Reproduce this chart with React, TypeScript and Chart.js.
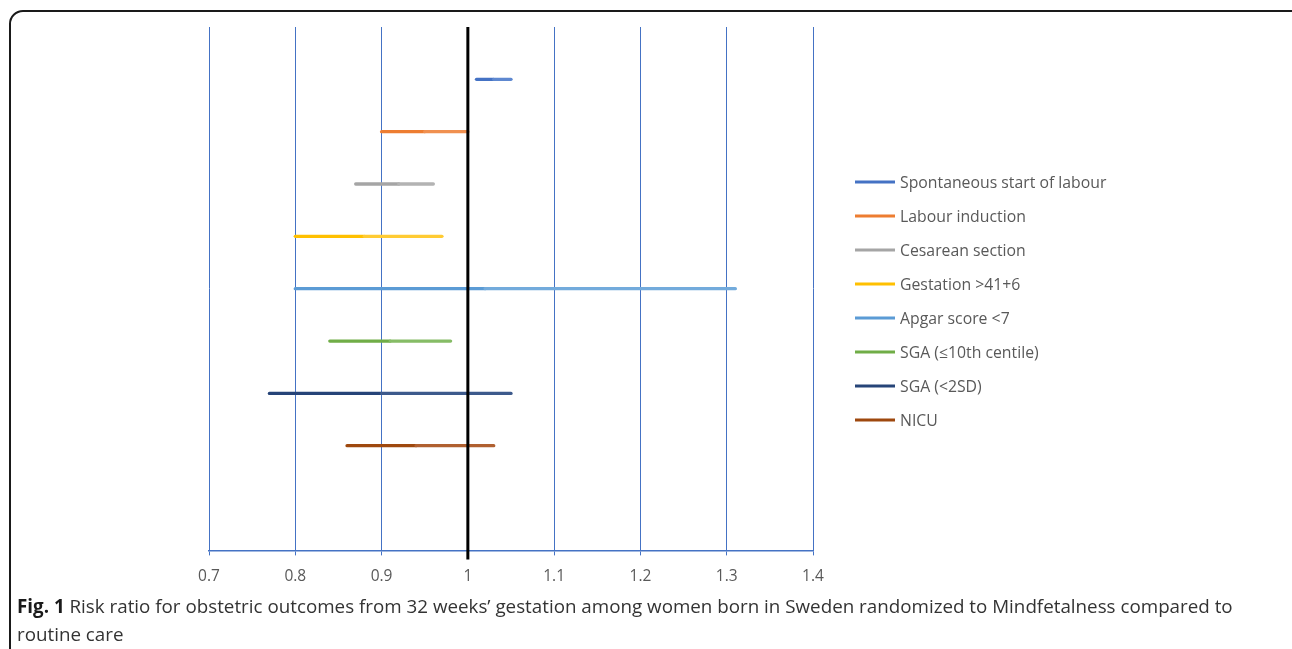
import React, { useEffect, useRef } from "react";
import { Chart, registerables } from "chart.js";

Chart.register(...registerables);

const categories = [
  "Spontaneous start of labour",
  "Labour induction",
  "Cesarean section",
  "Gestation >41+6",
  "Apgar score <7",
  "SGA (≤10th centile)",
  "SGA (<2SD)",
  "NICU",
];
const lowerCI = [1.01, 0.9, 0.87, 0.8, 0.8, 0.84, 0.77, 0.86];
const estimate = [1.03, 0.95, 0.92, 0.88, 1.02, 0.91, 0.9, 0.94];
const upperCI = [1.05, 1.0, 0.96, 0.97, 1.31, 0.98, 1.05, 1.03];
const colors = ["#4472C4", "#ED7D31", "#A5A5A5", "#FFC000", "#5B9BD5", "#70AD47", "#264478", "#9E480E"];
const lightColors = ["#5E88D0", "#F09050", "#B3B3B3", "#FFCB33", "#73ABDC", "#86BC66", "#3D5A8C", "#B06030"];
const xTicks = [0.7, 0.8, 0.9, 1.0, 1.1, 1.2, 1.3, 1.4];
const referenceValue = 1;

const refLinePlugin = {
  id: "refLine",
  afterDatasetsDraw(chart: any) {
    const { ctx, chartArea, scales } = chart;
    const x = scales.x.getPixelForValue(referenceValue);
    ctx.save();
    ctx.strokeStyle = "#000000";
    ctx.lineWidth = 3;
    ctx.beginPath();
    ctx.moveTo(x, chartArea.top);
    ctx.lineTo(x, chartArea.bottom + 9);
    ctx.stroke();
    ctx.restore();
  },
};

const legendPlugin = {
  id: "sideLegend",
  afterDraw(chart: any) {
    const { ctx, chartArea } = chart;
    ctx.save();
    ctx.font = "15.8px 'Open Sans'";
    ctx.textBaseline = "middle";
    ctx.textAlign = "left";
    chart.data.datasets.forEach((ds: any, i: number) => {
      const y = chartArea.top + 155 + i * 34;
      const x0 = chartArea.right + 42;
      ctx.strokeStyle = ds.borderColor;
      ctx.lineWidth = 3;
      ctx.beginPath();
      ctx.moveTo(x0, y);
      ctx.lineTo(x0 + 40, y);
      ctx.stroke();
      ctx.fillStyle = "#595959";
      ctx.fillText(ds.label, x0 + 45, y + 1);
    });
    ctx.restore();
  },
};

export default function App() {
  const canvasRef = useRef<HTMLCanvasElement | null>(null);

  useEffect(() => {
    if (!canvasRef.current) return;
    const datasets = categories.map((label, i) => ({
      label,
      data: [
        { x: lowerCI[i], y: i + 1 },
        { x: estimate[i], y: i + 1 },
        { x: upperCI[i], y: i + 1 },
      ],
      borderColor: colors[i],
      backgroundColor: colors[i],
      borderWidth: 3.3,
      pointRadius: 0,
      pointHoverRadius: 0,
      borderCapStyle: "round" as const,
      segment: {
        borderColor: (ctx: any) => (ctx.p0DataIndex === 0 ? colors[i] : lightColors[i]),
      },
    }));
    const chart = new Chart(canvasRef.current, {
      type: "line",
      data: { datasets },
      options: {
        animation: false,
        responsive: false,
        maintainAspectRatio: false,
        layout: { padding: { left: 209, right: 479, top: 27, bottom: 2 } },
        plugins: { legend: { display: false }, tooltip: { enabled: false } },
        scales: {
          x: {
            type: "linear",
            min: 0.7,
            max: 1.4,
            afterBuildTicks: (axis: any) => {
              axis.ticks = xTicks.map((v) => ({ value: v }));
            },
            ticks: {
              color: "#595959",
              font: { family: "'Open Sans'", size: 15.5 },
              padding: 12,
              callback: (v: any) => String(Number(Number(v).toFixed(1))),
            },
            grid: { color: "#4472C4", lineWidth: 1, tickLength: 5, drawOnChartArea: true },
            border: { color: "#4472C4", width: 1.5 },
          },
          y: { type: "linear", min: 0, max: 10, reverse: true, display: false },
        },
      },
      plugins: [refLinePlugin, legendPlugin],
    });
    return () => chart.destroy();
  }, []);

  return (
    <div style={{ position: "absolute", left: 0, top: 0, width: 1292, height: 649, overflow: "hidden", background: "#fff" }}>
      <div
        style={{
          position: "absolute",
          left: 9,
          top: 10,
          width: 1320,
          height: 700,
          border: "2px solid #1a1a1a",
          borderRadius: 14,
          boxSizing: "border-box",
        }}
      />
      <canvas ref={canvasRef} width={1292} height={600} style={{ position: "absolute", left: 0, top: 0 }} />
      <div
        style={{
          position: "absolute",
          left: 17,
          top: 592,
          fontFamily: "'Open Sans'",
          fontSize: 18.8,
          lineHeight: "28px",
          color: "#333333",
          whiteSpace: "nowrap",
        }}
      >
        <b style={{ color: "#1a1a1a" }}>Fig. 1</b> Risk ratio for obstetric outcomes from 32 weeks’ gestation among women born in Sweden randomized to Mindfetalness compared to
        <br />
        routine care
      </div>
    </div>
  );
}
